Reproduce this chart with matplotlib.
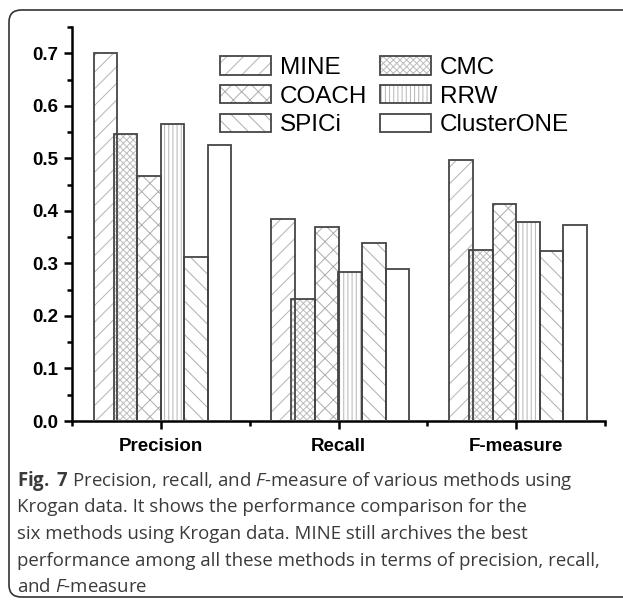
import matplotlib
matplotlib.use("Agg")
import matplotlib.pyplot as plt
from matplotlib.patches import Patch, FancyBboxPatch
from matplotlib.ticker import MultipleLocator, FixedLocator
import numpy as np

# data
groups = ["Precision", "Recall", "F-measure"]
methods = ["MINE", "CMC", "COACH", "RRW", "SPICi", "ClusterONE"]
mine = [0.700, 0.385, 0.497]
cmc = [0.547, 0.232, 0.326]
coach = [0.466, 0.370, 0.413]
rrw = [0.566, 0.283, 0.378]
spici = [0.312, 0.338, 0.324]
clusterone = [0.525, 0.289, 0.373]
series = [mine, cmc, coach, rrw, spici, clusterone]

hatches = ["//", "xxxxx", "xx", "||||", "\\\\", ""]
hatch_colors = ["#b4b4b4", "#bcbcbc", "#acacac", "#b4b4b4", "#acacac", "#ffffff"]
offsets = [-2.35, -1.5, -0.5, 0.5, 1.5, 2.5]
bar_w = 0.1324

plt.rcParams["font.family"] = ["Liberation Sans", "DejaVu Sans"]
plt.rcParams["hatch.linewidth"] = 0.7
plt.rcParams["mathtext.fontset"] = "custom"
plt.rcParams["mathtext.rm"] = "Open Sans"
plt.rcParams["mathtext.it"] = "Open Sans:italic"
plt.rcParams["mathtext.bf"] = "Open Sans:bold"

W, H = 623, 601
fig = plt.figure(figsize=(W / 100, H / 100), dpi=100)
ax = fig.add_axes([72 / W, 1 - 421 / H, (605 - 72) / W, (421 - 27) / H])

x = np.arange(1, len(groups) + 1)
for vals, off, hatch, hc in zip(series, offsets, hatches, hatch_colors):
    ax.bar(x + off * bar_w, vals, bar_w, color="white", edgecolor=hc,
           linewidth=0, hatch=hatch, zorder=2)
for vals, off in zip(series, offsets):
    ax.bar(x + off * bar_w, vals, bar_w, fill=False, edgecolor="#454545",
           linewidth=1.3, zorder=3)

ax.set_xlim(0.5, 3.5)
ax.set_ylim(0, 0.75)
for s in ["top", "right"]:
    ax.spines[s].set_visible(False)
for s in ["left", "bottom"]:
    ax.spines[s].set_linewidth(1.8)
    ax.spines[s].set_color("black")

ax.set_xticks(x)
ax.set_xticklabels(groups, fontsize=13.5, fontweight="bold")
ax.xaxis.set_minor_locator(FixedLocator([0.5, 1.5, 2.5, 3.5]))
ax.yaxis.set_minor_locator(MultipleLocator(0.05))
ax.set_yticks(np.arange(0, 0.71, 0.1))
ax.set_yticklabels([f"{v:.1f}" for v in np.arange(0, 0.71, 0.1)],
                   fontsize=13.5, fontweight="bold")
ax.tick_params(axis="both", which="major", direction="out", length=6, width=1.8)
ax.tick_params(axis="both", which="minor", direction="out", length=3.5, width=1.8)
ax.tick_params(axis="y", which="major", pad=4)
ax.tick_params(axis="x", which="major", pad=6)

# legend filled row-wise: MINE CMC / COACH RRW / SPICi ClusterONE
handles = []
for hatch, hc in zip(hatches, hatch_colors):
    handles.append((Patch(facecolor="white", edgecolor=hc, linewidth=0, hatch=hatch),
                    Patch(fill=False, edgecolor="#454545", linewidth=1.3)))
order = [0, 2, 4, 1, 3, 5]
leg = fig.legend([handles[i] for i in order], [methods[i] for i in order],
                 ncol=2, loc="upper left", bbox_to_anchor=(220 / W, 1 - 56 / H),
                 frameon=False, fontsize=17.5, handlelength=2.1, handleheight=0.8,
                 handletextpad=0.35, columnspacing=0.55, labelspacing=0.25,
                 borderpad=0, borderaxespad=0)

# rounded panel frame
frame = FancyBboxPatch((9 / W, 4 / H), 1.2, 1 - 14 / H, transform=fig.transFigure,
                       boxstyle="round,pad=0,rounding_size=0.02",
                       fill=False, edgecolor="#333333", linewidth=1.2)
fig.patches.append(frame)

caption = [
    r"$\mathbf{Fig.}$ $\mathbf{7}$ Precision, recall, and $\mathit{F}$-measure of various methods using",
    "Krogan data. It shows the performance comparison for the",
    "six methods using Krogan data. MINE still archives the best",
    "performance among all these methods in terms of precision, recall,",
    r"and $\mathit{F}$-measure",
]
for i, line in enumerate(caption):
    fig.text(17 / W, 1 - (481 + i * 26.5) / H, line, fontsize=13.4, family="Open Sans",
             color="#3a3a3a", va="center", ha="left")

fig.savefig("out.png", dpi=100)
